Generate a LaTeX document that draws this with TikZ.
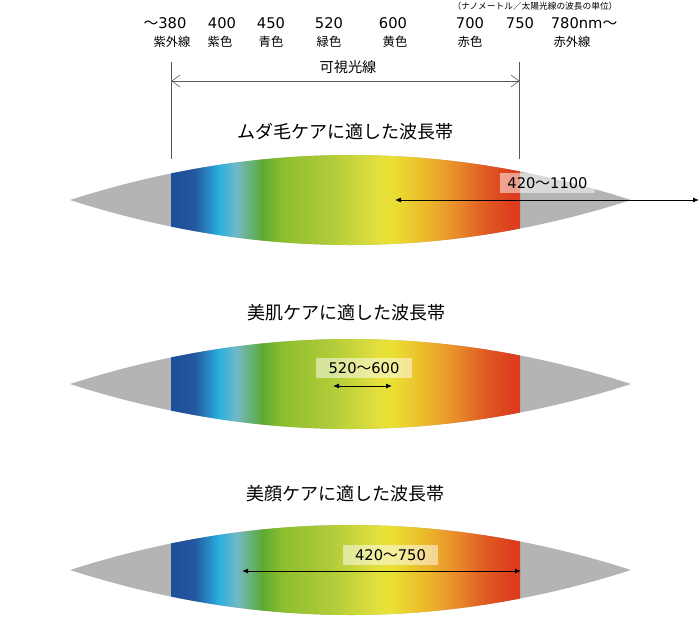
\documentclass[tikz,border=0pt]{standalone}
\usepackage{fontspec}
\setmainfont{DejaVu Sans}
\newfontfamily\jpfont{Noto Sans CJK JP}
\usetikzlibrary{arrows.meta}

\definecolor{lensgray}{HTML}{B4B4B4}
\definecolor{deepblue}{HTML}{1F4E9A}
\definecolor{midblue}{HTML}{2458A0}
\definecolor{skycyan}{HTML}{2AAEE0}
\definecolor{paleteal}{HTML}{74B8C4}
\definecolor{leafgreen}{HTML}{5CAB32}
\definecolor{limegreen}{HTML}{8CBE2E}
\definecolor{olivelime}{HTML}{B2CC3A}
\definecolor{lemon}{HTML}{E4E03E}
\definecolor{sunyellow}{HTML}{EAE034}
\definecolor{amber}{HTML}{EBB52A}
\definecolor{tangerine}{HTML}{E8882A}
\definecolor{vermilion}{HTML}{E05A22}
\definecolor{scarlet}{HTML}{DC3D1E}

\newcommand{\wv}{{\jpfont ～}}

\tikzset{
  wl/.style={font=\fontsize{14.7}{16}\selectfont, inner sep=0pt},
  cn/.style={font=\jpfont\fontsize{12.3}{14}\selectfont, inner sep=0pt},
  ttl/.style={font=\jpfont\fontsize{18}{20}\selectfont, inner sep=0pt},
  rangebox/.style={fill=white, fill opacity=0.5, text opacity=1, inner sep=0pt,
    minimum height=20pt, font=\fontsize{14.7}{16}\selectfont},
  rangearrow/.style={{Latex[length=6pt,width=5pt]}-{Latex[length=6pt,width=5pt]}, line width=0.9pt},
  visline/.style={draw=black!65, line width=0.6pt}
}

\begin{document}
\begin{tikzpicture}[x=1pt,y=-1pt]
\useasboundingbox (0,0) rectangle (700,627);

% wavelength scale
\node[font=\jpfont\fontsize{8.7}{10}\selectfont, inner sep=0pt] (unit) at (535,6) {（ナノメートル／太陽光線の波長の単位）};
\node[wl] (w380) at (165,23) {\wv380};
\node[wl] (w400) at (222,23) {400};
\node[wl] (w450) at (271,23) {450};
\node[wl] (w520) at (329,23) {520};
\node[wl] (w600) at (393,23) {600};
\node[wl] (w700) at (470,23) {700};
\node[wl] (w750) at (520,23) {750};
\node[wl] (w780) at (584,23) {780nm\wv};

\node[cn] (uv) at (172,42) {紫外線};
\node[cn] (violet) at (220,42) {紫色};
\node[cn] (blue) at (271,42) {青色};
\node[cn] (green) at (329,42) {緑色};
\node[cn] (yellow) at (395,42) {黄色};
\node[cn] (red) at (470,42) {赤色};
\node[cn] (ir) at (572,42) {赤外線};

% visible range
\coordinate (visL) at (171.5,62);
\coordinate (visR) at (519.5,62);
\coordinate (visLb) at (171.5,159);
\coordinate (visRb) at (519.5,159);
\coordinate (visA) at (171.5,81);
\coordinate (visB) at (519.5,81);
\draw[visline] (visL) -- (visLb);
\draw[visline] (visR) -- (visRb);
\draw[visline, {Straight Barb[length=8pt,width=12pt]}-{Straight Barb[length=8pt,width=12pt]}] (visA) -- (visB);
\node[font=\jpfont\fontsize{14.2}{16}\selectfont, inner sep=0pt] (vis) at (348,67) {可視光線};

% spectrum bands
\foreach \c in {200,384,570}{
  \fill[lensgray] (70,\c) .. controls (257,\c-60) and (444,\c-60) .. (631,\c)
                  .. controls (444,\c+60) and (257,\c+60) .. (70,\c) -- cycle;
  \begin{scope}
    \clip (70,\c) .. controls (257,\c-60) and (444,\c-60) .. (631,\c)
          .. controls (444,\c+60) and (257,\c+60) .. (70,\c) -- cycle;
    \clip (171,\c-50) rectangle (520,\c+50);
    \foreach \xa/\xb/\ca/\cb in {171/195/deepblue/midblue, 195/218/midblue/skycyan,
        218/237/skycyan/paleteal, 237/262/paleteal/leafgreen, 262/282/leafgreen/limegreen,
        282/332/limegreen/olivelime, 332/378/olivelime/lemon, 378/392/lemon/sunyellow,
        392/428/sunyellow/amber, 428/458/amber/tangerine, 458/485/tangerine/vermilion,
        485/512/vermilion/scarlet, 512/520/scarlet/scarlet}
      \shade[left color=\ca, right color=\cb] (\xa,\c-50) rectangle (\xb+0.6,\c+50);
  \end{scope}
}

% hair removal
\node[ttl] (hairtitle) at (345,132) {ムダ毛ケアに適した波長帯};
\node[rangebox, minimum width=95pt] (hairrange) at (547.5,183) {420\wv1100};
\coordinate (hairL) at (395,200);
\coordinate (hairR) at (699,200);
\draw[rangearrow] (hairL) -- (hairR);

% skin care
\node[ttl] (skintitle) at (346,313) {美肌ケアに適した波長帯};
\node[rangebox, minimum width=96pt] (skinrange) at (364,368) {520\wv600};
\coordinate (skinL) at (333,386);
\coordinate (skinR) at (392,386);
\draw[rangearrow] (skinL) -- (skinR);

% face care
\node[ttl] (facetitle) at (345,494) {美顔ケアに適した波長帯};
\node[rangebox, minimum width=95pt] (facerange) at (390.5,555) {420\wv750};
\coordinate (faceL) at (242,571);
\coordinate (faceR) at (521,571);
\draw[rangearrow] (faceL) -- (faceR);
\end{tikzpicture}
\end{document}
